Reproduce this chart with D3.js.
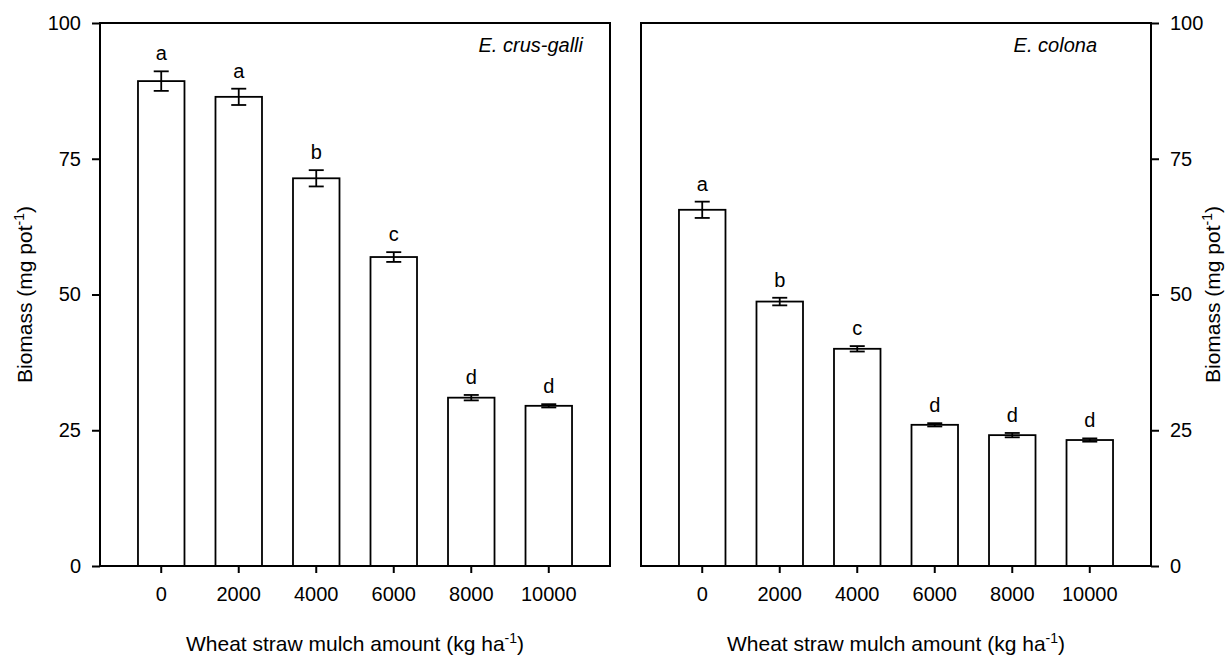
<!DOCTYPE html>
<html>
<head>
<meta charset="utf-8">
<script src="https://cdn.jsdelivr.net/npm/d3@7"></script>
<style>
  body { margin: 0; background: #fff; }
  svg text { font-family: "Liberation Sans", Arial, sans-serif; fill: #000; }
</style>
</head>
<body>
<div id="chart"></div>
<script>
// Datos
const mulchAmounts = ['0', '2000', '4000', '6000', '8000', '10000'];
const crusGalliMean = [89.3, 86.4, 71.4, 56.9, 31.0, 29.5];
const crusGalliErr = [1.8, 1.5, 1.5, 0.9, 0.5, 0.3];
const crusGalliLetters = ['a', 'a', 'b', 'c', 'd', 'd'];
const colonaMean = [65.6, 48.7, 40.0, 26.0, 24.1, 23.2];
const colonaErr = [1.5, 0.7, 0.5, 0.3, 0.4, 0.3];
const colonaLetters = ['a', 'b', 'c', 'd', 'd', 'd'];
const yTicks = [0, 25, 50, 75, 100];

const W = 1226, H = 657;
const plotTop = 23, plotBottom = 566;
const FONT = '"Liberation Sans", Arial, sans-serif';

const svg = d3.select('#chart').append('svg')
  .attr('width', W).attr('height', H);

const y = d3.scaleLinear().domain([0, 100]).range([plotBottom, plotTop]);

function panel(left, right, means, errs, letters, species, speciesX, axisSide) {
  const x = d3.scaleBand()
    .domain(mulchAmounts)
    .range([left, right])
    .paddingInner(0.4)
    .paddingOuter(0.49);

  const g = svg.append('g');

  // barras
  g.selectAll('.bar')
    .data(means)
    .enter()
    .append('rect')
    .attr('x', (d, i) => x(mulchAmounts[i]))
    .attr('y', d => y(d))
    .attr('width', x.bandwidth())
    .attr('height', d => y(0) - y(d))
    .attr('fill', '#fff')
    .attr('stroke', '#000')
    .attr('stroke-width', 1.8);

  // barras de error
  const cx = i => x(mulchAmounts[i]) + x.bandwidth() / 2;
  const eb = g.selectAll('.err').data(means).enter().append('g');
  eb.append('line')
    .attr('x1', (d, i) => cx(i)).attr('x2', (d, i) => cx(i))
    .attr('y1', (d, i) => y(d + errs[i])).attr('y2', (d, i) => y(d - errs[i]));
  eb.append('line')
    .attr('x1', (d, i) => cx(i) - 7.5).attr('x2', (d, i) => cx(i) + 7.5)
    .attr('y1', (d, i) => y(d + errs[i])).attr('y2', (d, i) => y(d + errs[i]));
  eb.append('line')
    .attr('x1', (d, i) => cx(i) - 7.5).attr('x2', (d, i) => cx(i) + 7.5)
    .attr('y1', (d, i) => y(d - errs[i])).attr('y2', (d, i) => y(d - errs[i]));
  eb.selectAll('line').attr('stroke', '#000').attr('stroke-width', 1.8);

  // letras de significancia
  g.selectAll('.letter')
    .data(means)
    .enter()
    .append('text')
    .attr('x', (d, i) => cx(i))
    .attr('y', (d, i) => y(d + errs[i]) - 11)
    .attr('text-anchor', 'middle')
    .attr('font-size', '20px')
    .text((d, i) => letters[i]);

  // marco
  g.append('rect')
    .attr('x', left).attr('y', plotTop)
    .attr('width', right - left).attr('height', plotBottom - plotTop)
    .attr('fill', 'none').attr('stroke', '#000').attr('stroke-width', 2);

  // eje x
  const xAxis = g.append('g')
    .attr('transform', `translate(0,${plotBottom})`)
    .call(d3.axisBottom(x).tickSize(7).tickPadding(14));
  xAxis.select('.domain').remove();
  xAxis.selectAll('line').attr('stroke', '#000').attr('stroke-width', 2);
  xAxis.selectAll('text').attr('font-size', '20px').attr('fill', '#000')
    .attr('font-family', FONT);

  // eje y
  const yAxisGen = axisSide === 'left' ? d3.axisLeft(y) : d3.axisRight(y);
  const yAxis = g.append('g')
    .attr('transform', `translate(${axisSide === 'left' ? left : right},0)`)
    .call(yAxisGen.tickValues(yTicks).tickSize(8).tickPadding(11));
  yAxis.select('.domain').remove();
  yAxis.selectAll('line').attr('stroke', '#000').attr('stroke-width', 2);
  yAxis.selectAll('text').attr('font-size', '20px').attr('fill', '#000')
    .attr('font-family', FONT);

  // especie
  g.append('text')
    .attr('x', speciesX).attr('y', 52)
    .attr('text-anchor', 'end')
    .attr('font-size', '20px')
    .attr('font-style', 'italic')
    .text(species);

  // título eje x
  const xt = g.append('text')
    .attr('x', (left + right) / 2).attr('y', 651)
    .attr('text-anchor', 'middle')
    .attr('font-size', '21px');
  xt.append('tspan').text('Wheat straw mulch amount (kg ha');
  xt.append('tspan').attr('font-size', '14px').attr('dy', -8).text('-1');
  xt.append('tspan').attr('dy', 8).text(')');

  // título eje y
  const yx = axisSide === 'left' ? 32 : 1220;
  const yt = g.append('text')
    .attr('transform', `translate(${yx},${(plotTop + plotBottom) / 2}) rotate(-90)`)
    .attr('text-anchor', 'middle')
    .attr('font-size', '21px');
  yt.append('tspan').text('Biomass (mg pot');
  yt.append('tspan').attr('font-size', '14px').attr('dy', -8).text('-1');
  yt.append('tspan').attr('dy', 8).text(')');
}

panel(100, 610, crusGalliMean, crusGalliErr, crusGalliLetters, 'E. crus-galli', 583, 'left');
panel(641, 1151, colonaMean, colonaErr, colonaLetters, 'E. colona', 1097, 'right');
</script>
</body>
</html>
